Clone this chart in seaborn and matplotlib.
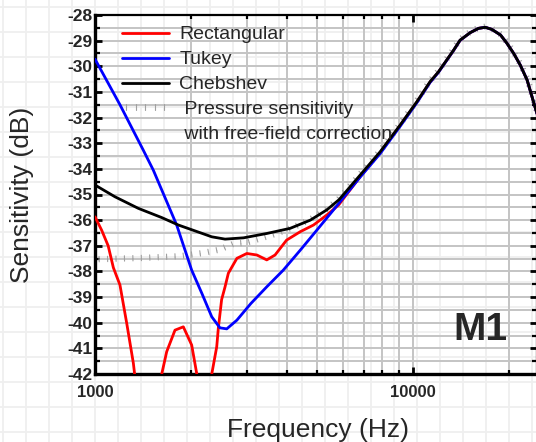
import numpy as np
import pandas as pd
import matplotlib
matplotlib.use("Agg")
import matplotlib.pyplot as plt
import seaborn as sns
from matplotlib import patheffects as pe
from matplotlib.lines import Line2D
from matplotlib.ticker import FixedLocator, NullFormatter, MultipleLocator, FixedFormatter

sns.set_theme(style="white")
plt.rcParams["font.family"] = ["Liberation Sans", "DejaVu Sans"]
plt.rcParams["axes.unicode_minus"] = False

# ---------------- data ----------------
cheb_f = [1000, 1156, 1368, 1621, 1828, 2063, 2328, 2563, 2929, 3466, 4105, 4750,
          5352, 5850, 6815, 7879, 9100, 10270, 11300, 12000, 13400, 14040, 15100,
          16050, 16850, 17660, 18820, 19700, 20700, 21700, 22800, 24500]
cheb_db = [-34.63, -35.09, -35.54, -35.90, -36.19, -36.42, -36.65, -36.74, -36.69,
           -36.52, -36.32, -36.00, -35.60, -35.20, -34.24, -33.33, -32.29, -31.38,
           -30.60, -30.22, -29.37, -28.98, -28.69, -28.52, -28.48, -28.56, -28.78,
           -29.10, -29.50, -29.95, -30.53, -31.85]

tukey_f = [1000, 1198, 1418, 1525, 1806, 2013, 2166, 2328, 2470, 2595, 2792, 3090,
           3466, 3906, 4418, 4980, 5618, 5895, 6815, 7879, 9100, 10270, 11300, 12000,
           13400, 14040, 15100, 16050, 16850, 17660, 18820, 19700, 20700, 21700,
           22800, 24500]
tukey_db = [-29.72, -31.50, -33.27, -34.05, -36.19, -37.95, -38.85, -39.77, -40.20,
            -40.24, -39.90, -39.25, -38.60, -37.95, -37.17, -36.39, -35.60, -35.28,
            -34.32, -33.40, -32.34, -31.42, -30.63, -30.24, -29.38, -28.99, -28.69,
            -28.52, -28.48, -28.56, -28.78, -29.10, -29.50, -29.95, -30.53, -31.85]

rect_f = [1000, 1050, 1100, 1142, 1198, 1258, 1320, 1332,
          1621, 1680, 1784, 1895, 2013, 2089,
          2328, 2413, 2441, 2500, 2563, 2625, 2792, 3000, 3227, 3466, 3680, 4000,
          4418, 4862, 5352, 5830, 6815, 7879, 9100, 10270, 11300, 12000, 13400,
          14040, 15100, 16050, 16850, 17660, 18820, 19700, 20700, 21700, 22800, 24500]
rect_db = [-35.87, -36.40, -37.00, -37.85, -38.53, -40.02, -41.58, -42.00,
           -42.00, -41.13, -40.29, -40.16, -40.87, -42.00,
           -42.00, -40.94, -40.22, -39.10, -38.60, -38.07, -37.49, -37.30, -37.36,
           -37.55, -37.36, -36.78, -36.45, -36.19, -35.80, -35.41, -34.30, -33.36,
           -32.31, -31.40, -30.62, -30.23, -29.38, -28.99, -28.69, -28.52, -28.48,
           -28.56, -28.78, -29.10, -29.50, -29.95, -30.53, -31.85]
rect_seg = [1] * 8 + [2] * 6 + [3] * 34

press_f = [1000, 1400, 1850, 2200, 2470, 2720, 3000, 3720, 4300, 4750, 5352, 5850,
           6815, 7879, 9100, 10270, 11300, 12000, 13400, 14040, 15100, 16050, 16850,
           17660, 18820, 19700, 20700, 21700, 22800, 24500]
press_db = [-37.55, -37.50, -37.43, -37.30, -37.17, -36.95, -36.90, -36.55, -36.25,
            -36.00, -35.60, -35.20, -34.24, -33.33, -32.29, -31.38, -30.60, -30.22,
            -29.37, -28.98, -28.69, -28.52, -28.48, -28.56, -28.78, -29.10, -29.50,
            -29.95, -30.53, -31.85]

y_ticks = list(range(-42, -27))
x_major = [1000, 10000]
x_major_labels = ["1000", "10000"]
x_minor = [2000, 3000, 4000, 5000, 6000, 7000, 8000, 9000, 20000]

# ---------------- figure ----------------
fig = plt.figure(figsize=(5.36, 4.42), dpi=100)
fig.patch.set_facecolor("white")

# faint graph-paper backdrop
bg = fig.add_axes([0, 0, 1, 1], zorder=-10)
bg.set_xlim(0, 536)
bg.set_ylim(442, 0)
bg.axis("off")
for xv in np.arange(3, 536, 23):
    bg.axvline(xv, color="#efefef", lw=1.3)
for yv in np.arange(7, 442, 25):
    bg.axhline(yv, color="#efefef", lw=1.3)

ax = fig.add_axes([95 / 536, 1 - 374 / 442, 442 / 536, 359 / 442])
ax.set_facecolor("none")
ax.set_xscale("log")

ticks_fx = [pe.TickedStroke(spacing=6, angle=90, length=0.4, linewidth=0.8, foreground="#a0a0a0"),
            pe.TickedStroke(spacing=6, angle=-90, length=0.25, linewidth=0.8, foreground="#a0a0a0")]

sns.lineplot(x=press_f, y=press_db, ax=ax, color="#d4d4d4", lw=0.5,
             path_effects=ticks_fx, sort=False, zorder=2)

df_rect = pd.DataFrame({"f": rect_f, "db": rect_db, "seg": rect_seg})
sns.lineplot(data=df_rect, x="f", y="db", units="seg", estimator=None, ax=ax,
             color="#ff0000", lw=2.0, sort=False, legend=False, zorder=3)
sns.lineplot(x=tukey_f, y=tukey_db, ax=ax, color="#0000ff", lw=2.0, sort=False, zorder=4)
sns.lineplot(x=cheb_f, y=cheb_db, ax=ax, color="black", lw=2.0, sort=False, zorder=5)

ax.set_xlim(1000, 24500)
ax.set_ylim(-42, -28)

ax.xaxis.set_major_locator(FixedLocator(x_major))
ax.xaxis.set_major_formatter(FixedFormatter(x_major_labels))
ax.xaxis.set_minor_locator(FixedLocator(x_minor))
ax.xaxis.set_minor_formatter(NullFormatter())
ax.yaxis.set_major_locator(FixedLocator(y_ticks))
ax.yaxis.set_minor_locator(MultipleLocator(0.5))

ax.grid(which="both", color="#c4c4c4", lw=1.4)
ax.set_axisbelow(True)

for side in ["left", "bottom"]:
    ax.spines[side].set_linewidth(2.4)
for side in ["top", "right"]:
    ax.spines[side].set_linewidth(1.6)
for s in ax.spines.values():
    s.set_color("black")
    s.set_visible(True)

ax.tick_params(axis="both", which="both", direction="in", top=True, right=True,
               bottom=True, left=True, color="black")
ax.tick_params(axis="y", which="major", length=5, width=2.0, labelsize=12.5, pad=2)
ax.tick_params(axis="y", which="minor", length=3.5, width=1.6)
ax.tick_params(axis="x", which="major", length=5, width=2.0, labelsize=12, pad=8)
ax.tick_params(axis="x", which="minor", length=3, width=1.6)
for lab in ax.get_xticklabels() + ax.get_yticklabels():
    lab.set_fontweight("bold")

ax.set_xlabel("Frequency (Hz)", fontsize=19, va="center")
ax.xaxis.set_label_coords(0.505, -0.156)
ax.set_ylabel("Sensitivity (dB)", fontsize=19, va="center")
ax.yaxis.set_label_coords(-0.165, 0.5)

ax.text(0.871, 0.122, "M1", transform=ax.transAxes, fontsize=28, fontweight="bold",
        ha="center", va="center")

handles = [
    Line2D([], [], color="#ff0000", lw=2.0),
    Line2D([], [], color="#0000ff", lw=2.0),
    Line2D([], [], color="black", lw=2.0),
    Line2D([], [], color="#d4d4d4", lw=0.5, path_effects=ticks_fx),
    Line2D([], [], color="none", lw=0),
]
labels = ["Rectangular", "Tukey", "Chebshev", " Pressure sensitivity", " with free-field correction"]
leg = ax.legend(handles, labels, loc="upper left", bbox_to_anchor=(0.061, 0.97),
                frameon=False, fontsize=14, handlelength=2.4, handletextpad=0.55,
                labelspacing=0.38, borderpad=0, borderaxespad=0)

fig.savefig("out.png", dpi=100)
